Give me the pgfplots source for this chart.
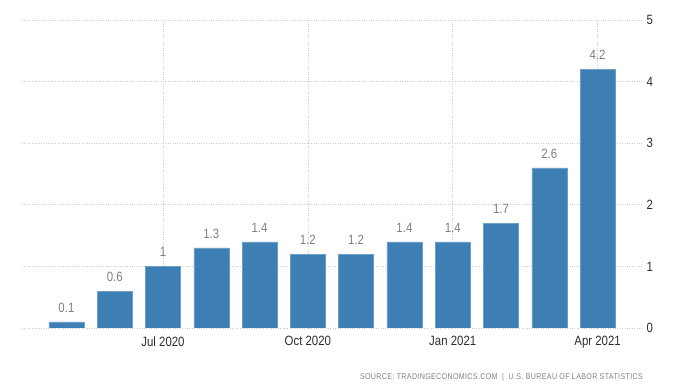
\documentclass[border=0pt]{standalone}
\usepackage{pgfplots}
\pgfplotsset{compat=1.18}
\usepackage{fontspec}
\setmainfont{Liberation Sans}[FakeStretch=0.85]
\definecolor{barblue}{RGB}{61,127,181}
\definecolor{valgray}{RGB}{128,128,128}
\definecolor{ticktext}{RGB}{45,45,45}
\begin{document}
\begin{tikzpicture}
\path[use as bounding box] (0,0) rectangle (675bp,391bp);
\begin{axis}[
  at={(22bp,63bp)}, anchor=south west,
  scale only axis, width=620bp, height=308bp,
  xmin=-0.92, xmax=11.92, ymin=0, ymax=5,
  axis line style={draw=none},
  major tick length=0pt,
  xtick={2,5,8,11},
  xticklabels={Jul 2020, Oct 2020, Jan 2021, Apr 2021},
  ytick={0,1,2,3,4,5},
  yticklabel pos=right,
  grid=major,
  major grid style={dotted, line width=0.7pt, black!20},
  /pgf/number format/assume math mode=true,
  tick label style={font=\fontsize{13.5}{13.5}\selectfont, text=ticktext},
  xticklabel style={yshift=-5bp},
  yticklabel style={anchor=west, xshift=1bp},
  ybar, bar width=35bp,
  nodes near coords,
  nodes near coords style={font=\fontsize{13.5}{13.5}\selectfont, text=valgray, yshift=6bp},
]
\addplot[fill=barblue, draw=barblue!75!white, line width=0.5pt] coordinates {
  (0,0.1) (1,0.6) (2,1) (3,1.3) (4,1.4) (5,1.2) (6,1.2) (7,1.4) (8,1.4) (9,1.7) (10,2.6) (11,4.2)
};
\end{axis}
\node[anchor=east, font=\fontsize{8.4}{8.4}\selectfont\addfontfeature{LetterSpace=4}, text=valgray, inner sep=0pt] at (643bp,14bp) {SOURCE: TRADINGECONOMICS.COM \ | \ U.S. BUREAU OF LABOR STATISTICS};
\end{tikzpicture}
\end{document}
